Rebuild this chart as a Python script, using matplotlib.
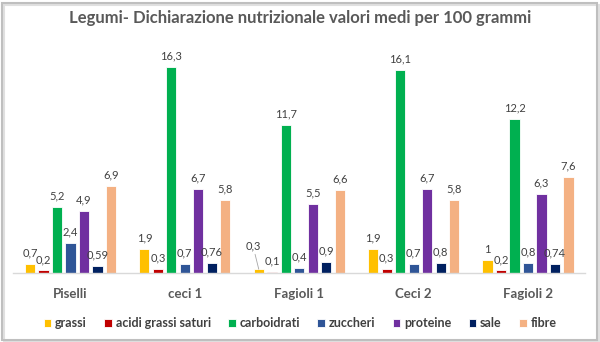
import matplotlib
matplotlib.use("Agg")
import matplotlib.pyplot as plt
import numpy as np
from matplotlib.patches import Rectangle

categories = ["Piselli", "ceci 1", "Fagioli 1", "Ceci 2", "Fagioli 2"]
series_names = ["grassi", "acidi grassi saturi", "carboidrati", "zuccheri", "proteine", "sale", "fibre"]
grassi = [0.7, 1.9, 0.3, 1.9, 1.0]
acidi = [0.2, 0.3, 0.1, 0.3, 0.2]
carboidrati = [5.2, 16.3, 11.7, 16.1, 12.2]
zuccheri = [2.4, 0.7, 0.4, 0.7, 0.8]
proteine = [4.9, 6.7, 5.5, 6.7, 6.3]
sale = [0.59, 0.76, 0.9, 0.8, 0.74]
fibre = [6.9, 5.8, 6.6, 5.8, 7.6]
values = [grassi, acidi, carboidrati, zuccheri, proteine, sale, fibre]
colors = ["#FFC000", "#C00000", "#00B050", "#2F5597", "#7030A0", "#002060", "#F4B183"]

plt.rcParams['font.family'] = ['Lato', 'DejaVu Sans']

W, H = 600, 342
fig = plt.figure(figsize=(6, 3.42), dpi=100)
fig.patch.set_facecolor("white")

ax_left, ax_right = 13.3, 585.2
ax_bottom, ax_top = 273, 46
ax = fig.add_axes([ax_left / W, 1 - ax_bottom / H, (ax_right - ax_left) / W, (ax_bottom - ax_top) / H])
ax.set_xlim(-0.5, len(categories) - 0.5)
ax.set_ylim(0, 18)

x = np.arange(len(categories))
step = 0.118
bw = 0.088
n = len(series_names)

def fmt(v):
    return ("%g" % v).replace(".", ",")

for i, (name, vals, c) in enumerate(zip(series_names, values, colors)):
    pos = x + (i - (n - 1) / 2) * step
    ax.bar(pos, vals, width=bw, color=c, edgecolor="white", linewidth=0.6, label=name)
    for j, (p, v) in enumerate(zip(pos, vals)):
        if name == "grassi" and categories[j] == "Fagioli 1":
            ax.annotate(fmt(v), xy=(p, v), xytext=(p - 0.05, v + 1.4), ha="center", va="bottom",
                        fontsize=8, color="#404040",
                        arrowprops=dict(arrowstyle="-", color="#A6A6A6", lw=0.6, shrinkA=0, shrinkB=0))
        else:
            ax.annotate(fmt(v), xy=(p, v), xytext=(0, 4), textcoords="offset points",
                        ha="center", va="bottom", fontsize=8, color="#404040")

for s in ["top", "right", "left"]:
    ax.spines[s].set_visible(False)
ax.spines["bottom"].set_color("#D9D9D9")
ax.spines["bottom"].set_linewidth(1)
ax.set_yticks([])
ax.set_xticks(x)
ax.set_xticklabels(categories, fontsize=9.5, fontweight="bold", color="#595959")
ax.tick_params(axis="x", length=0, pad=11)
ax.set_facecolor("none")

fig.text(0.5, 1 - 18 / H, "Legumi- Dichiarazione nutrizionale valori medi per 100 grammi",
         ha="center", va="center", fontsize=12, fontweight="bold", color="#595959")

leg = fig.legend(loc="center", bbox_to_anchor=(0.5, 1 - 323 / H), ncol=7, frameon=False,
                 handlelength=0.6, handleheight=0.6, handletextpad=0.3,
                 columnspacing=1.4, prop={'weight': 'bold', 'size': 9})
for t in leg.get_texts():
    t.set_color("#404040")

# frame
fig.patches.append(Rectangle((2 / W, 2 / H), 1 - 5 / W, 1 - 5 / H, transform=fig.transFigure,
                             fill=False, edgecolor="#BFBFBF", linewidth=1.5))
fig.patches.append(Rectangle((4 / W, 1 / H), 1 - 5 / W, 1 - 6 / H, transform=fig.transFigure,
                             fill=False, edgecolor="#E0E0E0", linewidth=1.5, zorder=-1))

fig.savefig("out.png", dpi=100)
